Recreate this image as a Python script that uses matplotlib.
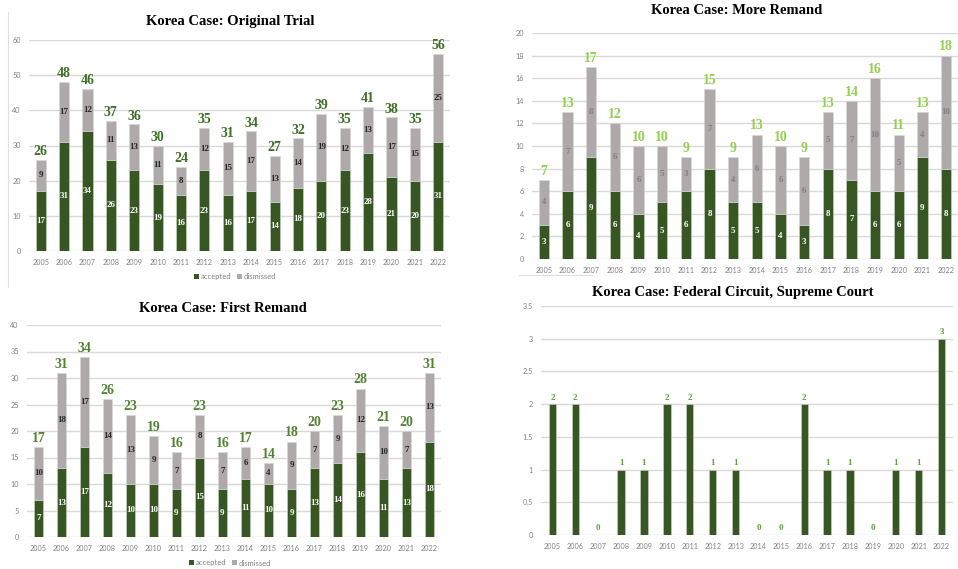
import matplotlib
matplotlib.use("Agg")
import matplotlib.pyplot as plt
from matplotlib.patches import Patch
from matplotlib.lines import Line2D

W, H = 958, 569
years = [str(y) for y in range(2005, 2023)]

orig_acc = [17, 31, 34, 26, 23, 19, 16, 23, 16, 17, 14, 18, 20, 23, 28, 21, 20, 31]
orig_dis = [9, 17, 12, 11, 13, 11, 8, 12, 15, 17, 13, 14, 19, 12, 13, 17, 15, 25]
orig_tot = [26, 48, 46, 37, 36, 30, 24, 35, 31, 34, 27, 32, 39, 35, 41, 38, 35, 56]

more_acc = [3, 6, 9, 6, 4, 5, 6, 8, 5, 5, 4, 3, 8, 7, 6, 6, 9, 8]
more_dis = [4, 7, 8, 6, 6, 5, 3, 7, 4, 6, 6, 6, 5, 7, 10, 5, 4, 10]
more_tot = [7, 13, 17, 12, 10, 10, 9, 15, 9, 13, 10, 9, 13, 14, 16, 11, 13, 18]

first_acc = [7, 13, 17, 12, 10, 10, 9, 15, 9, 11, 10, 9, 13, 14, 16, 11, 13, 18]
first_dis = [10, 18, 17, 14, 13, 9, 7, 8, 7, 6, 4, 9, 7, 9, 12, 10, 7, 13]
first_tot = [17, 31, 34, 26, 23, 19, 16, 23, 16, 17, 14, 18, 20, 23, 28, 21, 20, 31]

fed_vals = [2, 2, 0, 1, 1, 2, 2, 1, 1, 0, 0, 2, 1, 1, 0, 1, 1, 3]

GREEN = "#375623"
GRAY = "#AEAAAA"
GRID = "#D9D9D9"
TICK = "#808080"
SERIF = "Liberation Serif"

fig = plt.figure(figsize=(W / 100, H / 100), dpi=100)
fig.patch.set_facecolor("white")


def add_ax(x0, x1, ytop, ybot):
    return fig.add_axes([x0 / W, 1 - ybot / H, (x1 - x0) / W, (ybot - ytop) / H])


def style(ax, ymax, step, fmt=None):
    ax.set_xlim(-0.5, 17.5)
    ax.set_ylim(0, ymax)
    n = int(round(ymax / step))
    ticks = [i * step for i in range(n + 1)]
    ax.set_yticks(ticks)
    if fmt:
        ax.set_yticklabels([fmt(t) for t in ticks])
    ax.set_xticks(range(len(years)))
    ax.set_xticklabels(years)
    for s in ax.spines.values():
        s.set_visible(False)
    ax.grid(axis="y", color=GRID, linewidth=1)
    ax.set_axisbelow(True)
    ax.tick_params(length=0, labelsize=5.2, colors=TICK, pad=6)
    for lab in ax.get_xticklabels() + ax.get_yticklabels():
        lab.set_family("Lato")


def stacked(ax, acc, dis, tot, totcolor, inner_acc_c, inner_dis_c, ymax, tot_off):
    x = range(len(years))
    ax.bar(x, acc, width=0.43, color=GREEN, edgecolor="#C9D9BF", linewidth=0.4)
    ax.bar(x, dis, width=0.43, bottom=acc, color=GRAY, edgecolor="#D8D6D6", linewidth=0.4)
    for i in x:
        ax.text(i, acc[i] / 2, str(acc[i]), ha="center", va="center",
                fontsize=6.5, family=SERIF, fontweight="bold", color=inner_acc_c)
        ax.text(i, acc[i] + dis[i] / 2, str(dis[i]), ha="center", va="center",
                fontsize=6.5, family=SERIF, fontweight="bold", color=inner_dis_c)
        ax.text(i, acc[i] + dis[i] + tot_off, str(tot[i]), ha="center", va="bottom",
                fontsize=10, family=SERIF, fontweight="bold", color=totcolor)


def legend(ax, cx, cy):
    handles = [Patch(facecolor=GREEN, label="accepted"), Patch(facecolor=GRAY, label="dismissed")]
    fig.legend(handles=handles, loc="center", bbox_to_anchor=(cx / W, 1 - cy / H),
               ncol=2, frameon=False, fontsize=5.5, handlelength=0.6, handleheight=0.6,
               handletextpad=0.2, columnspacing=0.8, labelcolor=TICK,
               prop={"family": "Lato", "size": 5.5})


# Panel 1: Original Trial
ax1 = add_ax(29, 450, 40, 251)
style(ax1, 60, 10)
stacked(ax1, orig_acc, orig_dis, orig_tot, "#3F6E27", "white", "#262626", 60, 0.5)
fig.text(230 / W, 1 - 22 / H, "Korea Case: Original Trial", ha="center", va="center",
         fontsize=10.5, family=SERIF, fontweight="bold", color="black")
legend(ax1, 235, 277)

# Panel 2: More Remand
ax2 = add_ax(532, 958, 33, 259)
style(ax2, 20, 2)
stacked(ax2, more_acc, more_dis, more_tot, "#92D050", "white", "#7F7F7F", 20, 0.2)
fig.text(737 / W, 1 - 10 / H, "Korea Case: More Remand", ha="center", va="center",
         fontsize=10.5, family=SERIF, fontweight="bold", color="black")

# Panel 3: First Remand
ax3 = add_ax(27, 441, 325, 537)
style(ax3, 40, 5)
stacked(ax3, first_acc, first_dis, first_tot, "#548235", "white", "#262626", 40, 0.4)
fig.text(223 / W, 1 - 308 / H, "Korea Case: First Remand", ha="center", va="center",
         fontsize=10.5, family=SERIF, fontweight="bold", color="black")
legend(ax3, 230, 563)

# Panel 4: Federal Circuit, Supreme Court
ax4 = add_ax(541, 953, 306, 535)
style(ax4, 3.5, 0.5, fmt=lambda t: ("%g" % t))
ax4.bar(range(len(years)), fed_vals, width=0.32, color=GREEN, edgecolor="#C9D9BF", linewidth=0.4)
for i, v in enumerate(fed_vals):
    ax4.text(i, v + 0.04, str(v), ha="center", va="bottom", fontsize=6.5,
             family=SERIF, fontweight="bold", color="#5E9E3C")
fig.text(733 / W, 1 - 293 / H, "Korea Case: Federal Circuit, Supreme Court", ha="center",
         va="center", fontsize=10.5, family=SERIF, fontweight="bold", color="black")

# collage border artifacts
fig.add_artist(Line2D([8 / W, 8 / W], [1 - 12 / H, 1 - 287 / H], color="#E0E0E0", linewidth=0.8))
fig.add_artist(Line2D([519 / W, 592 / W], [1 - 275 / H, 1 - 275 / H], color="#E0E0E0", linewidth=0.8))

fig.savefig("out.png", dpi=100, facecolor="white")
